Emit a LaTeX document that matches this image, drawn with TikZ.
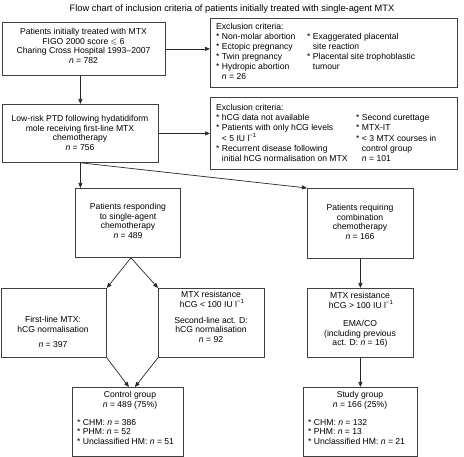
\documentclass[tikz,border=0pt]{standalone}
\usepackage{fontspec}
\setmainfont{Liberation Sans}
\usepackage{amssymb}
\usetikzlibrary{arrows.meta}
\tikzset{
  boxframe/.style={draw=black!75, line width=0.8pt, inner sep=0pt, anchor=north west},
  txt/.style={inner sep=0pt, align=center, font=\fontsize{8.6}{9.6}\selectfont},
  listtxt/.style={inner sep=0pt, align=left, font=\fontsize{8.6}{9.6}\selectfont},
  exctxt/.style={inner sep=0pt, anchor=north west, font=\fontsize{8.6}{10}\selectfont},
  arr/.style={draw=black!85, line width=0.7pt, -{Triangle[length=5pt,width=4pt]}}
}
\newcommand{\nn}{\textit{n}}
\newcommand{\ind}{\hphantom{* }}
\newcommand{\stx}{{*}}
\begin{document}
\begin{tikzpicture}[x=1pt,y=-1pt]
\useasboundingbox (0,0) rectangle (464,457);
\node[inner sep=0pt, font=\fontsize{9.3}{11}\selectfont] (title) at (232,9) {Flow chart of inclusion criteria of patients initially treated with single-agent MTX};

% boxes
\node[boxframe, minimum width=163pt, minimum height=53pt] (b1) at (2,22) {};
\node[boxframe, minimum width=247pt, minimum height=69pt] (e1) at (210,18) {};
\node[boxframe, minimum width=156pt, minimum height=58pt] (b2) at (2,104) {};
\node[boxframe, minimum width=247pt, minimum height=72pt] (e2) at (210,97) {};
\node[boxframe, minimum width=105pt, minimum height=69pt] (b3) at (75,188) {};
\node[boxframe, minimum width=106pt, minimum height=70pt] (b4) at (307,188) {};
\node[boxframe, minimum width=105pt, minimum height=69pt] (b5) at (1,288) {};
\node[boxframe, minimum width=106pt, minimum height=69pt] (b6) at (158,288) {};
\node[boxframe, minimum width=106pt, minimum height=69pt] (b7) at (307,288) {};
\node[boxframe, minimum width=111pt, minimum height=69pt] (b8) at (72,387) {};
\node[boxframe, minimum width=114pt, minimum height=69pt] (b9) at (303,387) {};

% texts
\node[txt] (t1) at (83.5,46) {Patients initially treated with MTX\\FIGO 2000 score $\leqslant$ 6\\Charing Cross Hospital 1993–2007\\\nn{} = 782};
\node[exctxt] (x1) at (216,22.5) {\begin{tabular}{@{}p{91pt}@{}l@{}}
Exclusion criteria: & \\
\stx{} Non-molar abortion & \stx{} Exaggerated placental\\
\stx{} Ectopic pregnancy & \ind site reaction\\
\stx{} Twin pregnancy & \stx{} Placental site trophoblastic\\
\stx{} Hydropic abortion & \ind tumour\\
\ind\nn{} = 26 & \\
\end{tabular}};
\node[txt] (t2) at (80,133) {Low-risk PTD following hydatidiform\\mole receiving first-line MTX\\chemotherapy\\\nn{} = 756};
\node[exctxt] (x2) at (216,103) {\begin{tabular}{@{}p{140pt}@{}l@{}}
Exclusion criteria: & \\
\stx{} hCG data not available & \stx{} Second curettage\\
\stx{} Patients with only hCG levels & \stx{} MTX-IT\\
\ind < 5 IU l\textsuperscript{−1} & \stx{} < 3 MTX courses in\\
\stx{} Recurrent disease following & \ind control group\\
\ind initial hCG normalisation on MTX & \ind\nn{} = 101\\
\end{tabular}};
\node[txt] (t3) at (128,221) {Patients responding\\to single-agent\\chemotherapy\\\nn{} = 489};
\node[txt] (t4) at (360,222) {Patients requiring\\combination\\chemotherapy\\\nn{} = 166};
\node[txt] (t5) at (53,332) {First-line MTX:\\hCG normalisation\\[6pt]\nn{} = 397};
\node[txt] (t6) at (211,317) {MTX resistance\\\ hCG < 100 IU l\textsuperscript{−1}\\[6pt]Second-line act. D:\\hCG normalisation\\\nn{} = 92};
\node[txt] (t7) at (360,320) {MTX resistance\\\ hCG > 100 IU l\textsuperscript{−1}\\[9pt]EMA/CO\\(including previous\\act. D: \nn{} = 16)};
\node[txt] (t8) at (130,400) {Control group\\\nn{} = 489 (75\%)};
\node[listtxt, anchor=west] (l8) at (77,432) {\stx{} CHM: \nn{} = 386\\\stx{} PHM: \nn{} = 52\\\stx{} Unclassified HM: \nn{} = 51};
\node[txt] (t9) at (360,400) {Study group\\\nn{} = 166 (25\%)};
\node[listtxt, anchor=west] (l9) at (308,432) {\stx{} CHM: \nn{} = 132\\\stx{} PHM: \nn{} = 13\\\stx{} Unclassified HM: \nn{} = 21};

% connectors
\coordinate (apex) at ([xshift=3pt]b3.south);
\draw[arr] (b1.east) -- (b1.east -| e1.west);
\draw[arr] (b1.south -| b2.north) -- (b2.north);
\draw[arr] (b2.east) -- (b2.east -| e2.west);
\draw[arr] (b2.south) -- (b2.south |- b3.north);
\draw[arr] (b2.south) -- (b4.north west);
\draw[arr] (apex) -- (b5.north east);
\draw[arr] (apex) -- (b6.north west);
\draw[arr] (b4.south) -- (b7.north);
\draw[arr] (b5.south east) -- ([xshift=1pt]b8.north);
\draw[arr] (b6.south west) -- ([xshift=7pt]b8.north);
\draw[arr] (b7.south) -- (b7.south |- b9.north);
\end{tikzpicture}
\end{document}
